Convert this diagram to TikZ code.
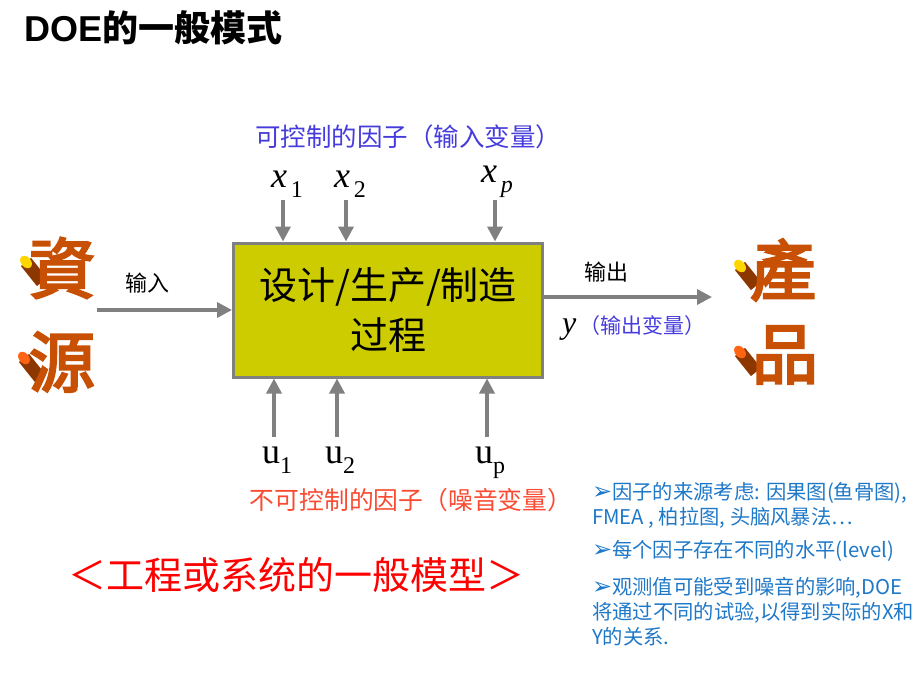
\documentclass[tikz,border=0pt]{standalone}
\usepackage{fontspec}
\setmainfont{Liberation Serif}
\newfontfamily\cjk{Noto Sans CJK SC}
\newfontfamily\cliptc[FakeBold=3.5]{Noto Sans CJK TC}
\newfontfamily\arial{Liberation Sans}
\newfontfamily\sym{DejaVu Sans}
\usetikzlibrary{arrows.meta,positioning}
\definecolor{boxfill}{RGB}{204,204,0}
\definecolor{linegray}{RGB}{128,128,128}
\definecolor{ctrlblue}{RGB}{70,60,220}
\definecolor{noisered}{RGB}{250,75,50}
\definecolor{notesblue}{RGB}{30,120,200}
\definecolor{clipor}{RGB}{200,80,5}
\definecolor{clipdark}{RGB}{140,55,0}
\definecolor{capyel}{RGB}{255,215,0}
\definecolor{capor}{RGB}{255,100,20}
\newcommand\vlab[2]{{\fontsize{36}{36}\selectfont#1}\raisebox{-10pt}{\fontsize{24}{24}\selectfont#2}}
\begin{document}
\begin{tikzpicture}[x=1pt,y=-1pt,every node/.style={inner sep=0pt},
	flow/.style={draw=linegray,line width=3.5pt,-{Triangle[length=15pt,width=15pt]}},
	lab/.style={font=\cjk\fontsize{22}{24}\selectfont}]
	\useasboundingbox(0,0)rectangle(920,690);
	\coordinate(IN)at(97,310);
	\coordinate(OUT)at(712,297);
	\coordinate(X1)at(283,200);
	\coordinate(X2)at(346,200);
	\coordinate(XP)at(495,200);
	\coordinate(U1)at(274,437);
	\coordinate(U2)at(337,437);
	\coordinate(UP)at(487,437);
	%process box
	\node[draw=linegray,line width=3pt,fill=boxfill,minimum width=309pt,minimum height=134pt,align=center,font=\cjk\fontsize{38}{50}\selectfont](proc)at(388,310){设计/生产/制造\\过程};
	\draw[flow](IN)--(IN-|proc.west);
	\draw[flow](proc.east|-OUT)--(OUT);
	\foreach\p in{X1,X2,XP}{\draw[flow](\p)--(\p|-proc.north);}
	\foreach\p in{U1,U2,UP}{\draw[flow](\p)--(\p|-proc.south);}
	\node[above=2pt,xshift=4pt](x1)at(X1){\vlab{\itshape x}{\,1}};
	\node[above=2pt,xshift=4pt](x2)at(X2){\vlab{\itshape x}{\,2}};
	\node[above=2pt,xshift=2pt](xp)at(XP){\vlab{\itshape x}{\,\itshape p}};
	\node[below=10pt,xshift=3pt](u1)at(U1){\vlab{u}{1}};
	\node[below=10pt,xshift=3pt](u2)at(U2){\vlab{u}{2}};
	\node[below=10pt,xshift=3pt](up)at(UP){\vlab{u}{p}};
	\node[font=\cjk\fontsize{25.5}{28}\selectfont,text=ctrlblue](ctrl)at(408,137){可控制的因子（输入变量）};
	\node[font=\cjk\fontsize{24.8}{28}\selectfont,text=noisered](noise)at(411,500){不可控制的因子（噪音变量）};
	\node[lab](inlab)at(147,283){输入};
	\node[lab](outlab)at(606,272){输出};
	\node[font=\cjk\fontsize{21}{24}\selectfont](ylab)at(634,328){{\rmfamily\itshape\fontsize{32}{32}\selectfont y}\,{\color{ctrlblue}（输出变量）}};
	%titles
	\node[anchor=west,font=\fontsize{36}{38}\selectfont](title)at(24,28){{\arial\bfseries DOE}{\cjk\bfseries 的一般模式}};
	\node[font=\cjk\fontsize{38}{40}\selectfont,text=red](model)at(296,575){＜工程或系统的一般模型＞};
	\node[anchor=north west,align=left,font=\cjk\fontsize{20.3}{25}\selectfont,text=notesblue](notes)at(592,482){{\sym\fontsize{24}{25}\selectfont ➢}因子的来源考虑: 因果图(鱼骨图),\\FMEA , 柏拉图, 头脑风暴法…\\[8pt]{\sym\fontsize{24}{25}\selectfont ➢}每个因子存在不同的水平(level)\\[12pt]{\sym\fontsize{24}{25}\selectfont ➢}观测值可能受到噪音的影响,DOE\\将通过不同的试验,以得到实际的X和\\Y的关系.};
	%clip art
	\foreach\c/\cx/\cy/\kx/\ky/\kc[count=\i]in{資/62/268/26/262/capyel,源/62/362/24/358/capor,產/783/270/740/266/capyel,品/785/355/740/352/capor}{
		\draw[clipdark,line width=13pt](\kx,\ky)--++(16,20);
		\fill[\kc](\kx,\ky)ellipse[x radius=5pt,y radius=7pt,rotate=40];
		\node[text=clipor,font=\cliptc\fontsize{66}{66}\selectfont](clip\i)at(\cx,\cy){\c};
	}
\end{tikzpicture}
\end{document}
